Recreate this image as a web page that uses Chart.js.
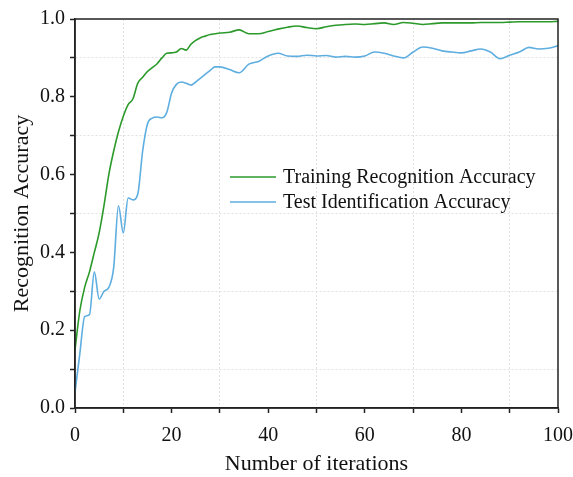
<!DOCTYPE html>
<html>
<head>
<meta charset="utf-8">
<script src="https://cdn.jsdelivr.net/npm/chart.js@4"></script>
<style>
  body { margin: 0; background: #fff; }
</style>
</head>
<body>
<canvas id="accChart" width="573" height="477"></canvas>
<script>
var iterations = [0, 1, 2, 3, 4, 5, 6, 7, 8, 9, 10, 11, 12, 13, 14, 15, 16, 17, 18, 19, 20,
  21, 22, 23, 24, 25, 26, 27, 28, 29, 30, 32, 34, 36, 38, 40, 42, 44, 46, 48, 50,
  52, 54, 56, 58, 60, 62, 64, 66, 68, 70, 72, 74, 76, 78, 80, 82, 84, 86, 88, 90,
  92, 94, 96, 98, 100];

var trainAcc = [0.15, 0.25, 0.31, 0.35, 0.40, 0.45, 0.52, 0.60, 0.66, 0.71, 0.75,
  0.78, 0.795, 0.835, 0.85, 0.865, 0.875, 0.885, 0.90, 0.912, 0.913,
  0.915, 0.924, 0.92, 0.935, 0.945, 0.952, 0.956, 0.96, 0.962, 0.964,
  0.966, 0.972, 0.962, 0.962, 0.968, 0.974, 0.979, 0.982, 0.978, 0.975,
  0.980, 0.984, 0.986, 0.987, 0.986, 0.988, 0.990, 0.986, 0.991, 0.989,
  0.986, 0.988, 0.990, 0.990, 0.990, 0.990, 0.991, 0.991, 0.991, 0.992,
  0.993, 0.993, 0.993, 0.993, 0.994];

var testAcc = [0.04, 0.14, 0.235, 0.24, 0.35, 0.28, 0.30, 0.31, 0.36, 0.52, 0.45,
  0.54, 0.535, 0.55, 0.66, 0.73, 0.745, 0.748, 0.746, 0.76, 0.81,
  0.832, 0.838, 0.835, 0.83, 0.838, 0.848, 0.858, 0.868, 0.877, 0.877,
  0.87, 0.862, 0.884, 0.891, 0.905, 0.912, 0.905, 0.904, 0.907, 0.905,
  0.906, 0.902, 0.904, 0.902, 0.905, 0.915, 0.912, 0.905, 0.900, 0.915,
  0.928, 0.925, 0.918, 0.915, 0.913, 0.918, 0.923, 0.915, 0.898, 0.907,
  0.915, 0.927, 0.923, 0.925, 0.931];

var seriesNames = ['Training Recognition Accuracy', 'Test Identification Accuracy'];
var seriesColors = ['#2b9a2b', '#5eaee0'];

var serif = '"Times New Roman", "Liberation Serif", serif';

function toPoints(ys) {
  return iterations.map(function (x, i) { return { x: x, y: ys[i] }; });
}

// only the in-between (minor) positions get a dotted grid line
function minorGrid(step) {
  return function (c) {
    if (!c.tick) return 'rgba(0,0,0,0)';
    var k = Math.round(c.tick.value / step);
    return k % 2 === 1 ? '#e0e0e0' : 'rgba(0,0,0,0)';
  };
}

// frame around the plot area
var framePlugin = {
  id: 'frame',
  afterDraw: function (chart) {
    var a = chart.chartArea, c = chart.ctx;
    c.save();
    c.strokeStyle = '#222';
    c.lineWidth = 1.5;
    c.strokeRect(a.left, a.top, a.right - a.left, a.bottom - a.top);
    c.restore();
  }
};

// legend drawn inside the plot area
var innerLegend = {
  id: 'innerLegend',
  afterDraw: function (chart) {
    var a = chart.chartArea, c = chart.ctx;
    c.save();
    c.font = '20px ' + serif;
    c.textBaseline = 'middle';
    chart.data.datasets.forEach(function (ds, i) {
      var y = a.top + 158 + i * 25;
      var x0 = a.left + 155;
      c.strokeStyle = ds.borderColor;
      c.lineWidth = 1.6;
      c.beginPath();
      c.moveTo(x0, y);
      c.lineTo(x0 + 46, y);
      c.stroke();
      c.fillStyle = '#111';
      c.fillText(ds.label, x0 + 53, y + 1);
    });
    c.restore();
  }
};

var ctx = document.getElementById('accChart').getContext('2d');
var accChart = new Chart(ctx, {
  type: 'line',
  data: {
    datasets: [
      {
        label: seriesNames[0],
        data: toPoints(trainAcc),
        borderColor: seriesColors[0],
        borderWidth: 1.6,
        pointRadius: 0,
        cubicInterpolationMode: 'monotone',
        fill: false
      },
      {
        label: seriesNames[1],
        data: toPoints(testAcc),
        borderColor: seriesColors[1],
        borderWidth: 1.6,
        pointRadius: 0,
        cubicInterpolationMode: 'monotone',
        fill: false
      }
    ]
  },
  options: {
    responsive: false,
    animation: false,
    layout: { padding: { top: 19, right: 15, left: 9, bottom: 0 } },
    plugins: {
      legend: { display: false },
      tooltip: { enabled: false }
    },
    scales: {
      x: {
        type: 'linear',
        min: 0,
        max: 100,
        afterFit: function (s) {
          s.height = 69;
          s.paddingRight = 0;
          s.paddingLeft = 0;
        },
        ticks: {
          stepSize: 10,
          autoSkip: false,
          maxRotation: 0,
          padding: 11,
          color: '#111',
          font: { family: serif, size: 20 },
          callback: function (v, i) { return i % 2 ? '' : v; }
        },
        grid: {
          color: minorGrid(10),
          tickColor: '#222',
          tickLength: 5,
          tickWidth: 1.5
        },
        border: { color: '#222', width: 1.5, dash: [2, 2] },
        title: {
          display: true,
          text: 'Number of iterations',
          color: '#111',
          font: { family: serif, size: 22 },
          padding: { top: 6, bottom: 0 }
        }
      },
      y: {
        min: 0,
        max: 1,
        afterFit: function (s) {
          s.width = 66;
          s.paddingTop = 0;
          s.paddingBottom = 0;
        },
        ticks: {
          stepSize: 0.1,
          autoSkip: false,
          padding: 5,
          color: '#111',
          font: { family: serif, size: 20 },
          callback: function (v, i) { return i % 2 ? '' : v.toFixed(1); }
        },
        grid: {
          color: minorGrid(0.1),
          tickColor: '#222',
          tickLength: 5,
          tickWidth: 1.5
        },
        border: { color: '#222', width: 1.5, dash: [2, 2] },
        title: {
          display: true,
          text: 'Recognition Accuracy',
          color: '#111',
          font: { family: serif, size: 22 },
          padding: { top: 0, bottom: 2 }
        }
      }
    }
  },
  plugins: [framePlugin, innerLegend]
});
</script>
</body>
</html>
